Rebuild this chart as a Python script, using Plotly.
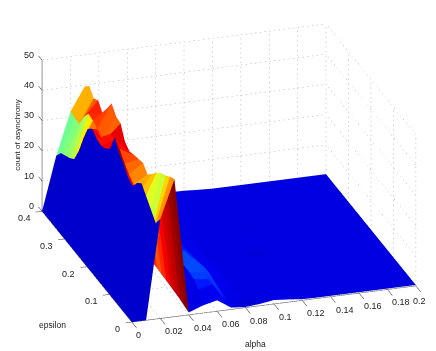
import plotly.graph_objects as go

alpha = [0, .01, .02, .03, .04, .05, .06, .07, .08, .09, .10, .11, .12, .13, .14, .15, .16, .17, .18, .19, .20]
epsilon = [0, .02, .04, .06, .08, .10, .12, .14, .16, .18, .20, .22, .24, .26, .28, .30, .32, .34, .36, .38, .40]
# one row per alpha, one value per epsilon
count = [
    [0]*21,
    [0, 43.5, 41.8, 38.9, 40, 42.6, 44.2, 47.8, 42.1, 40.3, 39.4, 39.9, 41.4, 39.5, 34.4, 28.5, 24, 22.5, 21.5, 20.5, 17.8],
    [32.9, 29.7, 25, 26, 30.5, 31.8, 33.5, 34.9, 36.5, 39.6, 41, 41, 35.1, 35.6, 37, 38, 38.4, 35.6, 31.4, 31.3, 31.8],
    [45.5, 44.5, 43, 42, 40.3, 38, 36, 38, 37.5, 37, 36.3, 37.7, 41.9, 42.4, 44.9, 41.4, 37.9, 40.4, 39.2, 41.5, 39.5],
    [.8, 1.2, 1.6, 1.8, 2, 2.2, 2.3, 2.5, 2.6, 3, 3.5, 4, 4, 4, 3.5, 3, 3, 2.5, 2, 2, 1.5],
    [2.5, 6, 7.5, 8, 8, 8, 8, 7, 7, 7, 7, 6, 5, 2, 2, 1.5, 1.5, 1, 1, 1, 1],
    [3.6, 7, 7, 7.5, 8, 8, 7, 7, 6, 6, 6, 5, 4, 1.5, 1, 1, 1, .8, .8, .6, .6],
    [.6, 1, 1.5, 2, 2.5, 3, 3, 2.5, 2, 2, 1.5, 1.5, 1, .8, .8, .6, .6, .5, .5, .5, .5],
    [.2, .3, .4, .4, .5, .5, .6, .5, .5, .5, .4, .4, .4, .4, .5, .5, .6, .7, .8, .9, .9],
    [.6, .5, .4, .4, .3, .4, .4, .4, .3, .3, .4, .4, .3, .4, .4, .5, .6, .6, .7, .8, .9],
    [1.3, .9, .6, .4, .3, .3, .3, .3, .3, .3, .3, .4, .4, .3, .3, .4, .4, .5, .6, .7, .8],
    [.9, .6, .4, .3, .3, .3, .3, .3, .2, .3, .3, .3, 1, .3, .3, .3, .3, .4, .4, .5, .5],
    [.4, .3, .3, .3, .3, .3, .3, .3, .3, .3, .3, .3, .3, .3, .3, .3, .3, .3, .3, .3, .3],
    [.3, .3, .3, .3, .3, .3, .3, .3, .3, .3, .3, .3, .3, .3, .3, .3, .3, .3, .3, .3, .3],
    [.3, .3, .3, .3, .3, .3, .3, .3, .3, .3, .3, .3, .3, .3, .3, .3, .3, .3, .3, .3, .3],
    [.3, .3, .3, .3, .3, .3, .3, .3, .3, .3, .3, .3, .3, .3, .3, .3, .3, .3, .3, .3, .3],
    [.3, .3, .3, .3, .3, .3, .3, .3, .3, .3, .3, .3, .3, .3, .3, .3, .3, .3, .3, .3, .3],
    [.3, .3, .3, .3, .3, .3, .3, .3, .3, .3, .3, .3, .3, .3, .3, .3, .3, .3, .3, .3, .3],
    [.3, .3, .3, .3, .3, .3, .3, .3, .3, .3, .3, .3, .3, .3, .3, .3, .3, .3, .3, .3, .3],
    [.3, .3, .3, .3, .3, .3, .3, .3, .3, .3, .3, .3, .3, .3, .3, .3, .3, .3, .3, .3, .3],
    [.3, .3, .3, .3, .3, .3, .3, .3, .3, .3, .3, .3, .3, .3, .3, .3, .3, .3, .3, .3, .3],
]
alpha_ticks = [0, .02, .04, .06, .08, .1, .12, .14, .16, .18, .2]
alpha_labels = ["0", "0.02", "0.04", "0.06", "0.08", "0.1", "0.12", "0.14", "0.16", "0.18", "0.2"]
eps_ticks = [0, .1, .2, .3, .4]
eps_labels = ["0", "0.1", "0.2", "0.3", "0.4"]
z_ticks = [0, 10, 20, 30, 40, 50]
z_labels = ["0", "10", "20", "30", "40", "50"]

colorscale = [[0, "rgb(0,0,205)"], [.005, "rgb(0,0,225)"], [.11, "rgb(0,0,255)"], [.33, "rgb(0,255,255)"],
              [.6, "rgb(255,255,0)"], [.87, "rgb(255,0,0)"], [1, "rgb(128,0,0)"]]

na, ne = len(alpha), len(epsilon)
vx, vy, vz, ti, tj, tk, cell = [], [], [], [], [], [], []
for r in range(na):
    for c in range(ne):
        vx.append(alpha[r]); vy.append(epsilon[c]); vz.append(count[r][c])
for r in range(na - 1):
    for c in range(ne - 1):
        a = r * ne + c
        b = a + 1
        d = a + ne
        e = d + 1
        ti += [a, a]; tj += [b, e]; tk += [e, d]
        cell += [count[r][c], count[r][c]]

fig = go.Figure()
fig.add_trace(go.Mesh3d(x=vx, y=vy, z=vz, i=ti, j=tj, k=tk, intensity=cell, intensitymode="cell",
                        colorscale=colorscale, cmin=0, cmax=46, showscale=False, flatshading=True,
                        lighting=dict(ambient=1, diffuse=0, specular=0, roughness=1, fresnel=0),
                        hoverinfo="skip"))

def lines(segments, **kw):
    xs, ys, zs = [], [], []
    for p, q in segments:
        xs += [p[0], q[0], None]; ys += [p[1], q[1], None]; zs += [p[2], q[2], None]
    fig.add_trace(go.Scatter3d(x=xs, y=ys, z=zs, mode="lines", connectgaps=False, line=kw,
                               hoverinfo="skip", showlegend=False))

def dotted(p, q, n):
    out = []
    for i in range(n):
        t0, t1 = i / n, (i + .3) / n
        out.append((tuple(p[k] + (q[k] - p[k]) * t0 for k in range(3)),
                    tuple(p[k] + (q[k] - p[k]) * t1 for k in range(3))))
    return out

grid = []
for a in alpha_ticks:
    grid += dotted((a, 0, 0), (a, .4, 0), 30) + dotted((a, .4, 0), (a, .4, 50), 32)
for e in eps_ticks:
    grid += dotted((0, e, 0), (.2, e, 0), 60) + dotted((.2, e, 0), (.2, e, 50), 32)
for z in z_ticks:
    grid += dotted((0, .4, z), (.2, .4, z), 60) + dotted((.2, 0, z), (.2, .4, z), 30)
lines(grid, color="#a8a8a8", width=1)

frame = [((0, 0, 0), (.2, 0, 0)), ((0, 0, 0), (0, .4, 0)), ((0, .4, 0), (0, .4, 50))]
for a in alpha_ticks:
    frame.append(((a, 0, 0), (a, -.022, 0)))
for e in eps_ticks:
    frame.append(((0, e, 0), (-.0045, e, 0)))
for z in z_ticks:
    frame.append(((0, .4, z), (0, .416, z)))
lines(frame, color="#555555", width=1.2)

axis_common = dict(showgrid=False, zeroline=False, showbackground=False, showspikes=False, showline=False,
                   ticks="", showticklabels=False, title=dict(text=""))
FONT = dict(family="Liberation Sans", size=9, color="#222")
ann = []
for v, t in zip(alpha_ticks[:-1], alpha_labels[:-1]):
    ann.append(dict(x=v, y=0, z=0, text=t, showarrow=False, xanchor="center", xshift=4.5 + 2.5 * len(t) - .5, yshift=-13, font=FONT))
for v, t in zip(eps_ticks, eps_labels):
    ann.append(dict(x=0, y=v, z=0, text=t, showarrow=False, xanchor="right", xshift=-9.5, yshift=-7, font=FONT))
for v, t in zip(z_ticks, z_labels):
    ann.append(dict(x=0, y=.4, z=v, text=t, showarrow=False, xanchor="right", xshift=-6, yshift=5.5, font=FONT))
ann += [
    dict(x=0, y=0, z=0, text="epsilon", showarrow=False, xshift=-79, yshift=-3,
         font=dict(family="Liberation Sans", size=8.5, color="#222")),
    dict(x=.09, y=0, z=0, text="alpha", showarrow=False, xshift=-4, yshift=-38,
         font=dict(family="Liberation Sans", size=8.5, color="#222")),
    dict(x=0, y=.4, z=25, text="count of asynchrony", showarrow=False, textangle=-90, xshift=-24, yshift=1,
         font=dict(family="Liberation Sans", size=8, color="#222")),
]
R = 1.6
CX, CY, CZ = .003, .0175, -.065
fig.update_layout(
    width=436, height=351, margin=dict(l=0, r=0, t=0, b=0), paper_bgcolor="white", showlegend=False,
    annotations=[dict(xref="paper", yref="paper", x=420 / 436, y=1 - 300 / 351, text=alpha_labels[-1],
                      showarrow=False, font=FONT)],
    scene=dict(
        xaxis=dict(range=[-.0045, .2], **axis_common),
        yaxis=dict(range=[-.022, .416], **axis_common),
        zaxis=dict(range=[0, 50], **axis_common),
        aspectmode="manual", aspectratio=dict(x=1.738, y=1.830, z=.938),
        camera=dict(eye=dict(x=-.281*R+CX, y=-.874*R+CY, z=.397*R+CZ), up=dict(x=0, y=0, z=1),
                    center=dict(x=CX, y=CY, z=CZ), projection=dict(type="orthographic")),
        annotations=ann,
    ),
)
fig.write_html("out.html")
